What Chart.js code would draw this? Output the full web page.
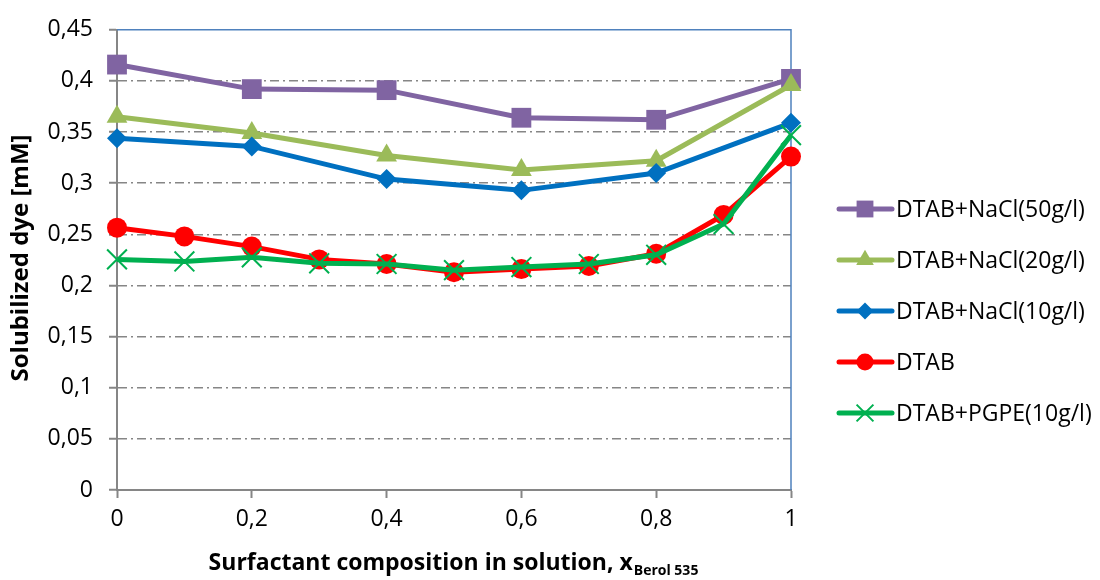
<!DOCTYPE html>
<html>
<head>
<meta charset="utf-8">
<script src="https://cdn.jsdelivr.net/npm/chart.js@4"></script>
<style>
  html, body { margin: 0; padding: 0; background: #fff; }
  #wrap { width: 1100px; height: 580px; }
</style>
</head>
<body>
<div id="wrap"><canvas id="chart" width="1100" height="580"></canvas></div>
<script>
// valori
const xCoarse = [0, 0.2, 0.4, 0.6, 0.8, 1];
const xFine = [0, 0.1, 0.2, 0.3, 0.4, 0.5, 0.6, 0.7, 0.8, 0.9, 1];

const nacl50 = [0.416, 0.392, 0.391, 0.364, 0.362, 0.402];
const nacl20 = [0.365, 0.349, 0.327, 0.313, 0.322, 0.396];
const nacl10 = [0.344, 0.336, 0.304, 0.293, 0.310, 0.359];
const dtab = [0.2565, 0.248, 0.238, 0.2255, 0.221, 0.213, 0.216, 0.219, 0.231, 0.269, 0.326];
const pgpe = [0.2255, 0.2235, 0.2275, 0.2217, 0.221, 0.215, 0.218, 0.221, 0.230, 0.260, 0.347];

const seriesLabels = ['DTAB+NaCl(50g/l)', 'DTAB+NaCl(20g/l)', 'DTAB+NaCl(10g/l)', 'DTAB', 'DTAB+PGPE(10g/l)'];
const yTitle = 'Solubilized dye [mM]';
const xTitle = 'Surfactant composition in solution, x';
const xTitleSub = 'Berol 535';

const FONT = '"Open Sans", Lato, sans-serif';

function toPoints(xs, ys) {
    return xs.map((x, i) => ({ x: x, y: ys[i] }));
}

function fmt(v) {
    return String(Math.round(v * 100) / 100).replace('.', ',');
}

const datasets = [
    { label: seriesLabels[0], data: toPoints(xCoarse, nacl50), borderColor: '#8064A2', backgroundColor: '#8064A2',
      pointStyle: 'rect', pointRadius: 14, order: 5 },
    { label: seriesLabels[1], data: toPoints(xCoarse, nacl20), borderColor: '#9BBB59', backgroundColor: '#9BBB59',
      pointStyle: 'triangle', pointRadius: 12, order: 4 },
    { label: seriesLabels[2], data: toPoints(xCoarse, nacl10), borderColor: '#0070C0', backgroundColor: '#0070C0',
      pointStyle: 'rectRot', pointRadius: 10, order: 3 },
    { label: seriesLabels[3], data: toPoints(xFine, dtab), borderColor: '#FF0000', backgroundColor: '#FF0000',
      pointStyle: 'circle', pointRadius: 10, order: 2 },
    { label: seriesLabels[4], data: toPoints(xFine, pgpe), borderColor: '#00B050', backgroundColor: '#00B050',
      pointStyle: 'crossRot', pointRadius: 14, pointBorderWidth: 2, order: 1 }
];
datasets.forEach(d => {
    d.borderWidth = 5;
    d.tension = 0;
    d.clip = false;
    d.pointHoverRadius = d.pointRadius;
    if (!d.pointBorderWidth) d.pointBorderWidth = 0;
});

// bordo blu sopra e a destra, sotto i marcatori
const frameBorder = {
    id: 'frameBorder',
    beforeDatasetsDraw(chart) {
        const a = chart.chartArea;
        const ctx = chart.ctx;
        ctx.save();
        ctx.strokeStyle = '#4F81BD';
        ctx.lineWidth = 1.5;
        ctx.beginPath();
        ctx.moveTo(a.left, a.top);
        ctx.lineTo(a.right, a.top);
        ctx.lineTo(a.right, a.bottom);
        ctx.stroke();
        ctx.restore();
    }
};

// titoli degli assi e legenda stile Excel
const extras = {
    id: 'extras',
    afterDraw(chart) {
        const ctx = chart.ctx;
        const a = chart.chartArea;
        ctx.save();
        ctx.fillStyle = '#000';

        // titolo asse y
        ctx.save();
        ctx.translate(21, 258);
        ctx.rotate(-Math.PI / 2);
        ctx.font = 'bold 24px ' + FONT;
        ctx.textAlign = 'center';
        ctx.textBaseline = 'middle';
        ctx.fillText(yTitle, 0, 0);
        ctx.restore();

        // titolo asse x con pedice
        ctx.font = 'bold 23px ' + FONT;
        const w1 = ctx.measureText(xTitle).width;
        ctx.font = 'bold 14px ' + FONT;
        const w2 = ctx.measureText(xTitleSub).width;
        const x0 = 453 - (w1 + w2) / 2;
        ctx.textBaseline = 'alphabetic';
        ctx.textAlign = 'left';
        ctx.font = 'bold 23px ' + FONT;
        ctx.fillText(xTitle, x0, 570);
        ctx.font = 'bold 14px ' + FONT;
        ctx.fillText(xTitleSub, x0 + w1 + 1, 575);

        // legenda
        ctx.font = '23px ' + FONT;
        ctx.textBaseline = 'middle';
        chart.data.datasets.forEach((ds, i) => {
            const y = 209 + i * 51;
            ctx.strokeStyle = ds.borderColor;
            ctx.lineWidth = 5;
            ctx.lineCap = 'round';
            ctx.beginPath();
            ctx.moveTo(839, y);
            ctx.lineTo(892, y);
            ctx.stroke();
            ctx.lineCap = 'butt';
            ctx.fillStyle = ds.backgroundColor;
            ctx.strokeStyle = ds.borderColor;
            ctx.lineWidth = ds.pointBorderWidth || 0;
            Chart.helpers.drawPoint(ctx, {
                pointStyle: ds.pointStyle,
                radius: ds.pointRadius * 0.85,
                borderWidth: ds.pointBorderWidth || 0
            }, 865, y);
            ctx.fillStyle = '#000';
            ctx.fillText(ds.label, 896, y + 1);
        });
        ctx.restore();
    }
};

const gridGray = '#868686';

new Chart(document.getElementById('chart'), {
    type: 'line',
    data: { datasets: datasets },
    options: {
        responsive: false,
        animation: false,
        events: [],
        layout: { padding: { left: 0, right: 309, top: 25, bottom: 0 } },
        plugins: {
            legend: { display: false },
            tooltip: { enabled: false }
        },
        scales: {
            x: {
                type: 'linear',
                min: 0,
                max: 1,
                ticks: {
                    stepSize: 0.2,
                    color: '#000',
                    font: { family: FONT, size: 23 },
                    padding: 8,
                    callback: v => fmt(v)
                },
                grid: {
                    drawOnChartArea: false,
                    drawTicks: true,
                    tickLength: 8,
                    tickColor: gridGray,
                    tickWidth: 2
                },
                border: { color: gridGray, width: 2 },
                afterFit: s => { s.height = 90; }
            },
            y: {
                min: 0,
                max: 0.45,
                ticks: {
                    stepSize: 0.05,
                    color: '#000',
                    font: { family: FONT, size: 23 },
                    padding: 16,
                    callback: v => fmt(v)
                },
                grid: {
                    color: ctx => (ctx.tick && (ctx.tick.value === 0 || Math.abs(ctx.tick.value - 0.45) < 1e-9)) ? 'rgba(0,0,0,0)' : gridGray,
                    lineWidth: 1.5,
                    drawTicks: true,
                    tickLength: 8,
                    tickColor: gridGray,
                    tickWidth: 2,
                    tickBorderDash: []
                },
                border: { color: gridGray, width: 2, dash: [9, 4, 2, 4] },
                afterFit: s => { s.width = 117; }
            }
        }
    },
    plugins: [frameBorder, extras]
});
</script>
</body>
</html>
